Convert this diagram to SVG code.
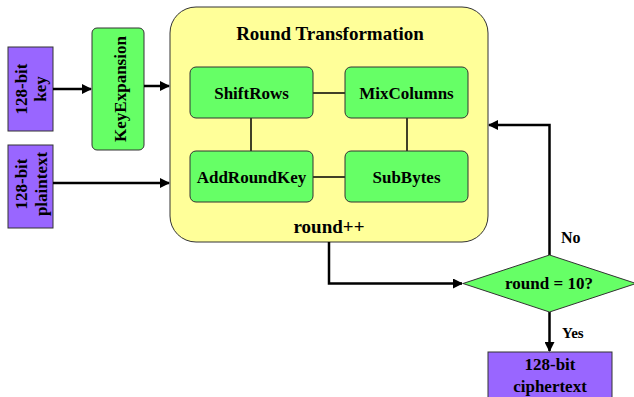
<svg xmlns="http://www.w3.org/2000/svg" width="634" height="397" viewBox="0 0 634 397">
<style>
text{font-family:"Liberation Serif","Times New Roman",serif;font-weight:bold;fill:#000}
.p{fill:#9966ff;stroke:#333;stroke-width:1}
.g{fill:#66ff66;stroke:#333;stroke-width:1}
.y{fill:#ffff99;stroke:#333;stroke-width:1}
.t{font-size:17px;text-anchor:middle}
.c{fill:none;stroke:#000;stroke-width:2.5}
.l{fill:none;stroke:#000;stroke-width:1.5}
</style>
<defs>
<marker id="ah" viewBox="0 0 10 10" refX="9" refY="5" markerWidth="4" markerHeight="4" orient="auto" markerUnits="strokeWidth">
<path d="M0,0 L10,5 L0,10 z" fill="#000"/>
</marker>
</defs>
<rect width="634" height="397" fill="#fff"/>
<g id="round">
<rect class="y" x="170" y="7" width="318" height="235" rx="26"/>
<text x="330" y="40" style="font-size:19px;text-anchor:middle">Round Transformation</text>
<text x="329" y="233" style="font-size:19px;text-anchor:middle">round++</text>
</g>
<g id="key">
<rect class="p" x="8" y="47" width="45" height="84"/>
<text class="t" transform="translate(27,89) rotate(-90)">128-bit</text>
<text class="t" transform="translate(46,89) rotate(-90)">key</text>
</g>
<g id="plaintext">
<rect class="p" x="8" y="145" width="45" height="83"/>
<text class="t" transform="translate(27,184) rotate(-90)">128-bit</text>
<text class="t" transform="translate(47,184) rotate(-90)">plaintext</text>
</g>
<g id="keyexpansion">
<rect class="g" x="92" y="28" width="52" height="122" rx="5"/>
<text class="t" transform="translate(126,89) rotate(-90)">KeyExpansion</text>
</g>
<g id="connectors">
<line class="l" x1="313" y1="93" x2="345" y2="93"/>
<line class="l" x1="251" y1="118" x2="251" y2="151"/>
<line class="l" x1="407" y1="118" x2="407" y2="151"/>
<line class="l" x1="313" y1="177" x2="345" y2="177"/>
<line class="c" x1="53" y1="89" x2="91" y2="89" marker-end="url(#ah)"/>
<line class="c" x1="144" y1="86" x2="169" y2="86" marker-end="url(#ah)"/>
<line class="c" x1="53" y1="183" x2="169" y2="183" marker-end="url(#ah)"/>
<polyline class="c" points="329,242 329,283.5 462,283.5" marker-end="url(#ah)"/>
<polyline class="c" points="549.5,255 549.5,125 489,125" marker-end="url(#ah)"/>
<line class="c" x1="549.5" y1="312" x2="549.5" y2="351" marker-end="url(#ah)"/>
<text x="561" y="243" style="font-size:16px">No</text>
<text x="562" y="338" style="font-size:15px">Yes</text>
</g>
<g id="shiftrows">
<rect class="g" x="190" y="67" width="123" height="51" rx="6"/>
<text class="t" x="251.5" y="99">ShiftRows</text>
</g>
<g id="mixcolumns">
<rect class="g" x="345" y="67" width="123" height="51" rx="6"/>
<text class="t" x="406.5" y="99">MixColumns</text>
</g>
<g id="addroundkey">
<rect class="g" x="190" y="151" width="123" height="51" rx="6"/>
<text class="t" x="251.5" y="183">AddRoundKey</text>
</g>
<g id="subbytes">
<rect class="g" x="345" y="151" width="123" height="51" rx="6"/>
<text class="t" x="406.5" y="183">SubBytes</text>
</g>
<g id="decision">
<polygon class="g" points="463,283.5 549.5,255 636,283.5 549.5,312"/>
<text class="t" x="549" y="289">round = 10?</text>
</g>
<g id="ciphertext">
<rect class="p" x="488" y="352" width="124" height="50"/>
<text class="t" x="550" y="370">128-bit</text>
<text class="t" x="550" y="392">ciphertext</text>
</g>
</svg>
